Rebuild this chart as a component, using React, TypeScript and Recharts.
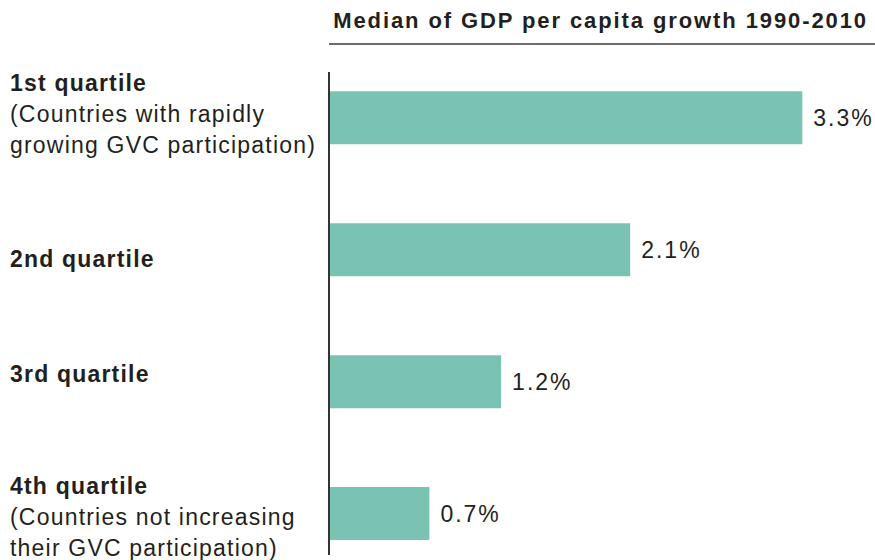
import React from "react";
import { BarChart, Bar, XAxis, YAxis, LabelList } from "recharts";

const quartiles = [1, 2, 3, 4];
const quartileNames = ["1st quartile", "2nd quartile", "3rd quartile", "4th quartile"];
const quartileNotes = [
  ["(Countries with rapidly", "growing GVC participation)"],
  [],
  [],
  ["(Countries not increasing", "their GVC participation)"],
];
const gdpGrowth = [3.3, 2.1, 1.2, 0.7];

const data = quartiles.map((q, i) => ({
  quartile: q,
  name: quartileNames[i],
  growth: gdpGrowth[i],
}));

const FONT = "'Liberation Sans', Arial, Helvetica, sans-serif";
const TEXT = "#231f20";
const BAR = "#7ac3b3";
// small nudges so the label blocks sit like the original
const tickShift = [-4, 9, -8, 3];

const QuartileTick = (props: any) => {
  const { y, payload } = props;
  const i = quartiles.indexOf(payload.value);
  if (i < 0) return null;
  const lines = [quartileNames[i], ...quartileNotes[i]];
  const lh = 31;
  const startY = y + (tickShift[i] ?? 0) - ((lines.length - 1) * lh) / 2;
  return (
    <text
      x={10}
      y={startY}
      fill={TEXT}
      fontFamily={FONT}
      fontSize={23}
      letterSpacing={1.2}
      dominantBaseline="central"
    >
      {lines.map((l, k) => (
        <tspan key={k} x={10} y={startY + k * lh} fontWeight={k === 0 ? 700 : 400}>
          {l}
        </tspan>
      ))}
    </text>
  );
};

export default function App() {
  return (
    <div style={{ position: "absolute", left: 0, top: 0, width: 875, height: 560, background: "#fff" }}>
      <div
        style={{
          position: "absolute",
          left: 329,
          top: 0,
          width: 546,
          height: 43,
          borderBottom: "2px solid #6d6d6d",
          boxSizing: "content-box",
          fontFamily: FONT,
          fontWeight: 700,
          fontSize: 22,
          color: TEXT,
        }}
      >
        <div style={{ position: "absolute", right: 7, top: 8, whiteSpace: "nowrap", letterSpacing: 1.9 }}>
          Median of GDP per capita growth 1990-2010
        </div>
      </div>
      <BarChart
        layout="vertical"
        width={875}
        height={560}
        data={data}
        margin={{ top: 72, right: 1, bottom: 5, left: 0 }}
      >
        <XAxis type="number" domain={[0, 3.8]} hide allowDataOverflow />
        <YAxis
          type="number"
          dataKey="quartile"
          domain={[0.65, 4.31]}
          ticks={quartiles}
          interval={0}
          width={329}
          allowDataOverflow
          axisLine={{ stroke: "#333", strokeWidth: 2 }}
          tickLine={false}
          tick={<QuartileTick />}
        />
        <Bar dataKey="growth" fill={BAR} barSize={53} isAnimationActive={false}>
          <LabelList
            dataKey="growth"
            position="right"
            offset={11}
            formatter={(v: any) => `${Number(v).toFixed(1)}%`}
            style={{ fontFamily: FONT, fontSize: 23, fill: TEXT, letterSpacing: 2 }}
          />
        </Bar>
      </BarChart>
    </div>
  );
}
